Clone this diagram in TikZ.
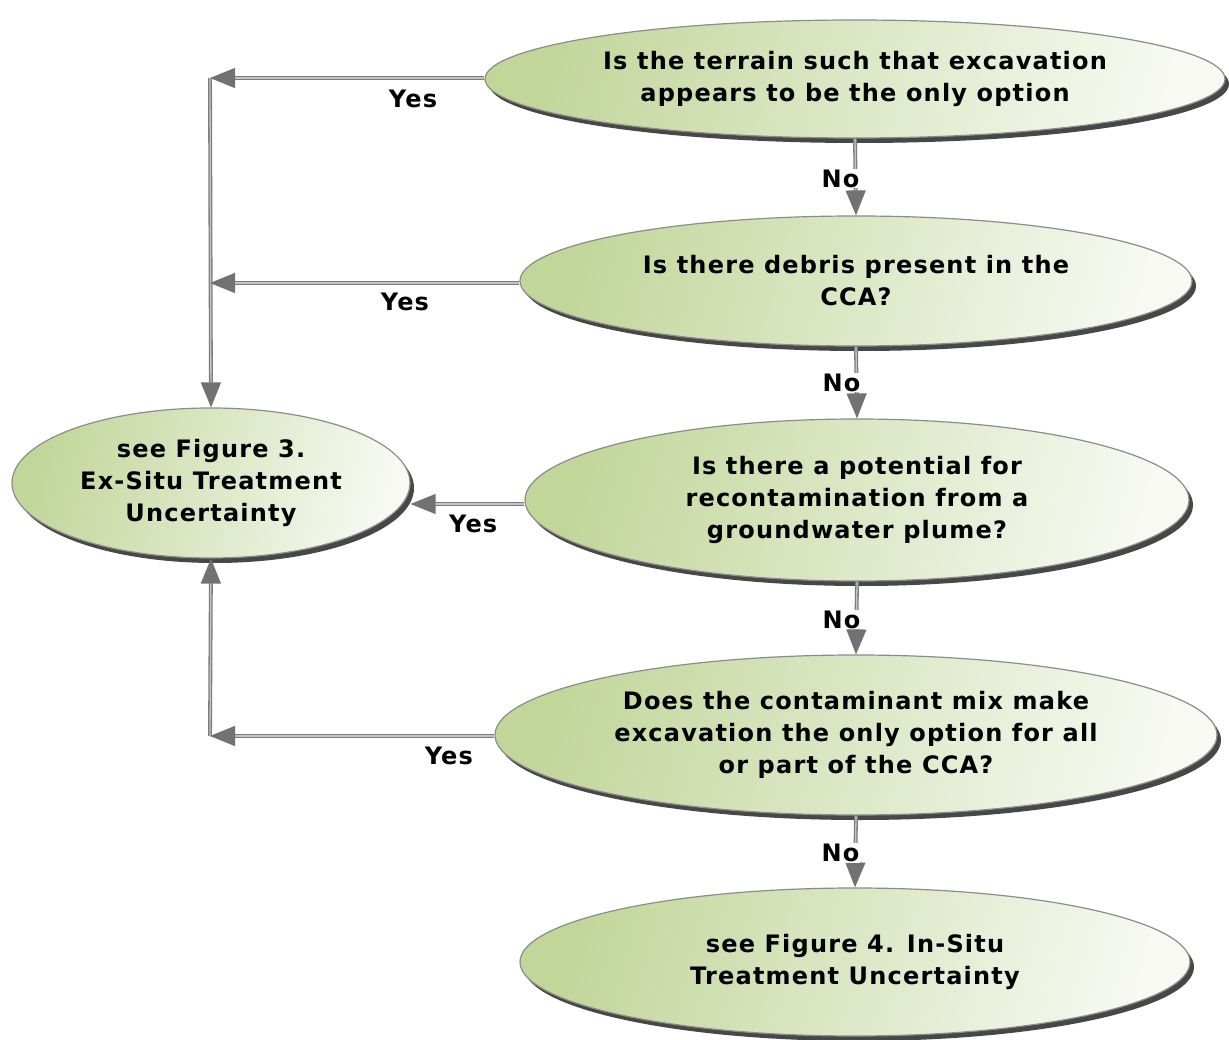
\documentclass[tikz,border=0pt]{standalone}
\usepackage{fontspec}
\setmainfont{DejaVu Sans}[LetterSpace=5]
\usetikzlibrary{shapes.geometric,arrows.meta,shadows}

\definecolor{ovalgreen}{HTML}{C2D69A}
\definecolor{ovalwhite}{HTML}{F7F9F2}
\definecolor{rimgray}{HTML}{8C8C8C}
\definecolor{linkgray}{HTML}{7C7C7C}
\definecolor{linkcore}{HTML}{C4C4C4}
\definecolor{tipgray}{HTML}{727272}

\begin{document}
\begin{tikzpicture}[x=1pt,y=-1pt,
  oval/.style={ellipse, draw=rimgray, line width=1.2pt,
    left color=ovalgreen, right color=ovalwhite, shading angle=75,
    inner sep=0pt, align=center,
    font=\fontsize{24}{32}\selectfont\bfseries,
    drop shadow={shadow xshift=4pt, shadow yshift=-5pt, fill=black!80, opacity=0.9}},
  link/.style={draw=linkgray, line width=1.3pt, double=linkcore, double distance=1.3pt},
  tip/.style={-{Triangle[length=25pt,width=20pt,fill=tipgray,color=tipgray]}},
  lbl/.style={font=\fontsize{24}{28}\selectfont\bfseries, inner sep=2pt},
  nolbl/.style={lbl, fill=white, inner sep=1pt}
]
\useasboundingbox[fill=white] (0,0) rectangle (1229,1040);

% decision ovals
\node[oval, minimum width=740pt, minimum height=118pt] (q1) at (855,79)
  {Is the terrain such that excavation\\appears to be the only option};
\node[oval, minimum width=672pt, minimum height=130pt] (q2) at (856,281)
  {Is there debris present in the\\CCA?};
\node[oval, minimum width=664pt, minimum height=162pt] (q3) at (857,500)
  {Is there a potential for\\recontamination from a\\groundwater plume?};
\node[oval, minimum width=722pt, minimum height=160pt] (q4) at (856,735)
  {Does the contaminant mix make\\excavation the only option for all\\or part of the CCA?};

% outcome ovals
\node[oval, minimum width=398pt, minimum height=150pt] (ex) at (211,483)
  {see Figure 3.\\Ex-Situ Treatment\\Uncertainty};
\node[oval, minimum width=670pt, minimum height=148pt] (in) at (855,962)
  {see Figure 4. In-Situ\\Treatment Uncertainty};

% corners of the "Yes" trunk on the left
\coordinate (c1) at (210,78);
\coordinate (c2) at (210,283);
\coordinate (c4) at (210,736);

% "Yes" branches
\draw[link, tip] (q1.west |- c1) -- node[lbl, pos=0.26, below=9pt] {Yes} (c1);
\draw[link, tip] (c1) -- (ex.north);
\draw[link, tip] (q2.west |- c2) -- node[lbl, pos=0.37, below=7pt] {Yes} (c2);
\draw[link, tip] (q3.west |- 0,504) coordinate (y3) -- node[lbl, pos=0.45, below=8pt] {Yes} (ex.east |- y3);
\draw[link, tip] (q4.west |- c4) -- node[lbl, pos=0.16, below=8pt] {Yes} (c4);
\draw[link, tip] (c4) -- (ex.south);

% "No" chain
\draw[link, tip] (q1.south) -- node[nolbl, pos=0.52, xshift=-15pt] {No} (q2.north);
\draw[link, tip] (q2.south) -- node[nolbl, pos=0.5, xshift=-15pt] {No} (q3.north);
\draw[link, tip] (q3.south) -- node[nolbl, pos=0.52, xshift=-15pt] {No} (q4.north);
\draw[link, tip] (q4.south) -- node[nolbl, pos=0.52, xshift=-15pt] {No} (in.north);
\end{tikzpicture}
\end{document}
